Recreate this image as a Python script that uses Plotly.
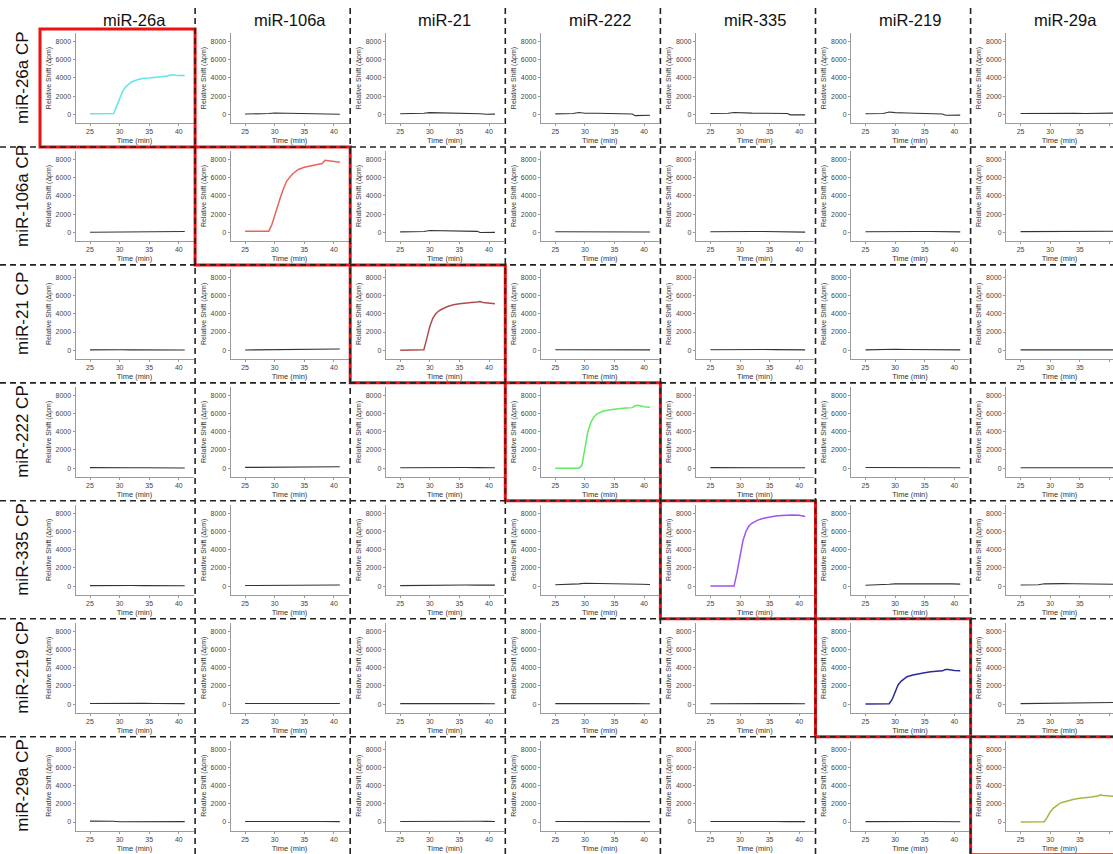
import plotly.graph_objects as go

# ---------------- data ----------------
targets = ["miR-26a", "miR-106a", "miR-21", "miR-222", "miR-335", "miR-219", "miR-29a"]
probes = ["miR-26a CP", "miR-106a CP", "miR-21 CP", "miR-222 CP", "miR-335 CP", "miR-219 CP", "miR-29a CP"]

x_ticks = [25, 30, 35, 40]
y_ticks = [0, 2000, 4000, 6000, 8000]

# time axis (min) for the matched (diagonal) signals
t_match = [25, 26, 27, 28, 29, 29.5, 30, 30.5, 31, 31.5, 32, 33, 34, 35, 36, 37, 38, 38.5, 39, 40, 41]
sig_26a = [50, 50, 50, 50, 100, 900, 1800, 2500, 3000, 3300, 3550, 3800, 3950, 4000, 4050, 4100, 4200, 4300, 4350, 4250, 4250]
sig_106a = [100, 100, 100, 100, 120, 800, 1900, 3000, 3900, 4800, 5600, 6400, 6900, 7150, 7300, 7450, 7550, 7900, 7850, 7750, 7700]
sig_21 = [0, 0, 0, 0, 50, 1300, 2600, 3500, 4000, 4300, 4500, 4800, 5000, 5100, 5200, 5250, 5300, 5350, 5250, 5150, 5100]
sig_222 = [0, 0, 0, 0, 0, 300, 2200, 4000, 5000, 5600, 5950, 6250, 6400, 6500, 6550, 6600, 6650, 6850, 6900, 6750, 6700]
sig_335 = [0, 0, 0, 0, 0, 1500, 3500, 5000, 6000, 6600, 6900, 7250, 7450, 7600, 7700, 7750, 7800, 7800, 7820, 7780, 7650]
sig_219 = [0, 0, 0, 0, 30, 500, 1400, 2100, 2500, 2800, 3000, 3200, 3350, 3450, 3550, 3600, 3650, 3800, 3800, 3700, 3650]
sig_29a = [0, 0, 0, 0, 30, 500, 1100, 1500, 1800, 2000, 2150, 2350, 2500, 2600, 2650, 2750, 2850, 3000, 2900, 2850, 2800]
match_colors = ["#5ee6ee", "#e8645a", "#b24c4c", "#62ea62", "#a052f0", "#2c2c92", "#a8b442"]

# time axis (min) for the non-matched (off-diagonal) traces
t_cross = [25, 26.5, 28, 29, 30, 32, 34, 36, 38, 38.5, 39.5, 41]
# each row: probe, remaining targets in column order (diagonal skipped)
cross_26a_cp = [
    [30, 40, 60, 80, 150, 130, 110, 100, 80, 60, 20, 10],
    [60, 60, 80, 120, 180, 160, 150, 140, 110, 60, 0, 20],
    [50, 60, 80, 200, 120, 110, 90, 70, 40, -150, -120, -100],
    [80, 90, 110, 200, 150, 130, 120, 100, 80, -60, -80, -60],
    [60, 70, 90, 250, 180, 140, 120, 80, 40, -100, -120, -90],
    [90, 100, 110, 140, 120, 110, 100, 90, 100, 110, 100, 130],
]
cross_106a_cp = [
    [0, 10, 20, 30, 20, 10, 10, 20, 40, 50, 60, 80],
    [40, 50, 60, 80, 200, 190, 180, 170, 100, -20, -30, -10],
    [60, 60, 70, 90, 100, 90, 80, 70, 60, 50, 40, 30],
    [50, 60, 70, 130, 110, 90, 80, 70, 60, 40, 20, 10],
    [60, 70, 90, 140, 120, 100, 90, 80, 70, 60, 50, 40],
    [70, 70, 80, 100, 90, 80, 70, 60, 50, 70, 90, 110],
]
cross_21_cp = [
    [40, 60, 80, 60, 50, 40, 30, 30, 20, 20, 10, 20],
    [30, 40, 50, 60, 70, 80, 90, 100, 110, 120, 120, 130],
    [50, 50, 60, 70, 80, 70, 60, 60, 50, 50, 40, 40],
    [50, 60, 70, 110, 90, 80, 70, 60, 50, 50, 40, 40],
    [40, 60, 80, 140, 100, 80, 70, 60, 60, 50, 40, 40],
    [40, 50, 60, 70, 60, 50, 50, 40, 40, 30, 30, 30],
]
cross_222_cp = [
    [60, 70, 80, 90, 70, 50, 40, 40, 30, 30, 20, 20],
    [80, 90, 100, 110, 120, 120, 130, 130, 140, 140, 150, 150],
    [40, 50, 60, 80, 100, 90, 80, 70, 60, 60, 50, 50],
    [60, 60, 70, 80, 70, 60, 60, 50, 50, 40, 40, 40],
    [70, 70, 80, 100, 90, 80, 70, 60, 60, 50, 50, 50],
    [50, 60, 70, 80, 70, 60, 60, 50, 50, 40, 40, 40],
]
cross_335_cp = [
    [50, 60, 80, 100, 80, 60, 50, 40, 30, 30, 30, 40],
    [60, 70, 80, 90, 100, 100, 110, 110, 110, 110, 120, 120],
    [50, 60, 80, 120, 150, 140, 130, 120, 110, 100, 100, 110],
    [150, 160, 180, 250, 320, 310, 300, 290, 280, 260, 200, 180],
    [100, 110, 130, 200, 250, 260, 270, 280, 290, 300, 250, 220],
    [120, 130, 150, 250, 280, 270, 260, 250, 240, 230, 220, 200],
]
cross_219_cp = [
    [60, 70, 80, 100, 90, 80, 70, 60, 60, 50, 50, 50],
    [60, 70, 80, 90, 80, 70, 70, 60, 60, 60, 60, 60],
    [50, 60, 70, 80, 70, 60, 60, 50, 50, 50, 40, 40],
    [50, 60, 70, 80, 70, 60, 60, 50, 50, 50, 40, 40],
    [40, 50, 60, 80, 70, 60, 60, 50, 50, 40, 40, 40],
    [50, 60, 70, 100, 80, 70, 80, 90, 100, 120, 150, 170],
]
cross_29a_cp = [
    [100, 110, 100, 80, 20, 10, 0, 0, 10, 20, 30, 40],
    [60, 70, 80, 90, 80, 70, 60, 60, 50, 50, 40, 40],
    [50, 60, 70, 80, 70, 60, 60, 70, 80, 80, 70, 60],
    [60, 60, 70, 90, 80, 70, 60, 50, 50, 40, 40, 40],
    [50, 60, 60, 70, 60, 60, 50, 50, 40, 40, 40, 40],
    [40, 50, 60, 90, 70, 60, 50, 50, 40, 40, 30, 30],
]

match_signals = [sig_26a, sig_106a, sig_21, sig_222, sig_335, sig_219, sig_29a]
cross_rows = [cross_26a_cp, cross_106a_cp, cross_21_cp, cross_222_cp, cross_335_cp, cross_219_cp, cross_29a_cp]

# ---------------- layout geometry ----------------
W, H = 1113, 854
GRID_X0, GRID_Y0 = 40.0, 29.0
CELL_W, CELL_H = 155.1, 117.95
PX_PER_MIN = 5.92
X_AXIS_START = 22.55
Y_RANGE = [-956, 8934]
FONT = "Arial, Liberation Sans, sans-serif"

fig = go.Figure()
layout = {}
annotations = []
shapes = []

for r in range(7):
    cross_iter = iter(cross_rows[r])
    for c in range(7):
        n = r * 7 + c + 1
        sfx = "" if n == 1 else str(n)
        cell_left = GRID_X0 + CELL_W * c
        cell_top = GRID_Y0 + CELL_H * r
        px0 = cell_left + 35.5
        px1 = min(cell_left + 153.5, W)
        py_top = cell_top + 4
        py_bot = cell_top + 94
        x_hi = X_AXIS_START + (px1 - px0) / PX_PER_MIN

        if r == c:
            fig.add_trace(go.Scatter(x=t_match, y=match_signals[r], mode="lines",
                                     line=dict(color=match_colors[r], width=1.5),
                                     xaxis="x" + sfx, yaxis="y" + sfx, showlegend=False,
                                     hoverinfo="skip"))
        else:
            fig.add_trace(go.Scatter(x=t_cross, y=next(cross_iter), mode="lines",
                                     line=dict(color="#333333", width=1.1),
                                     xaxis="x" + sfx, yaxis="y" + sfx, showlegend=False,
                                     hoverinfo="skip"))

        layout["xaxis" + sfx] = dict(
            domain=[px0 / W, px1 / W], anchor="y" + sfx, range=[X_AXIS_START, x_hi],
            tickvals=x_ticks, ticks="outside", ticklen=2, tickcolor="#999999",
            showline=True, linecolor="#9a9a9a", linewidth=1, showgrid=False, zeroline=False,
            tickfont=dict(size=7, color="#444444", family=FONT),
            title=dict(text="Time (min)", font=dict(size=7.5, color="#333333", family=FONT), standoff=3),
            fixedrange=True,
        )
        layout["yaxis" + sfx] = dict(
            domain=[1 - py_bot / H, 1 - py_top / H], anchor="x" + sfx, range=Y_RANGE,
            tickvals=y_ticks, ticks="outside", ticklen=2, tickcolor="#999999",
            showline=True, linecolor="#9a9a9a", linewidth=1, showgrid=False, zeroline=False,
            tickfont=dict(size=7, color="#444444", family=FONT),
            title=dict(text="Relative Shift (\u0394pm)", font=dict(size=7, color="#333333", family=FONT), standoff=3),
            fixedrange=True,
        )

        if r == 0:
            annotations.append(dict(text=targets[c], x=(px0 + 59) / W, y=1 - 20 / H,
                                    xref="paper", yref="paper", showarrow=False,
                                    xanchor="center", yanchor="middle",
                                    font=dict(size=16.5, color="#111111", family=FONT)))
        if c == 0:
            annotations.append(dict(text=probes[r], x=23 / W, y=1 - (py_top + py_bot) / 2 / H,
                                    xref="paper", yref="paper", showarrow=False, textangle=-90,
                                    xanchor="center", yanchor="middle",
                                    font=dict(size=17, color="#111111", family=FONT)))

# red boxes around matched cells
for k in range(7):
    x0 = GRID_X0 + CELL_W * k
    y0 = GRID_Y0 + CELL_H * k
    shapes.append(dict(type="rect", xref="paper", yref="paper",
                       x0=x0 / W, x1=min(x0 + CELL_W, W + 5) / W,
                       y0=1 - min(y0 + CELL_H, H + 5) / H, y1=1 - y0 / H,
                       line=dict(color="#ee1111", width=3), layer="above"))

# dashed separators
for k in range(1, 7):
    xv = GRID_X0 + CELL_W * k
    shapes.append(dict(type="line", xref="paper", yref="paper", x0=xv / W, x1=xv / W,
                       y0=0, y1=1 - 8 / H, line=dict(color="#222222", width=1.6, dash="6px,4px"),
                       layer="above"))
    yh = GRID_Y0 + CELL_H * k
    shapes.append(dict(type="line", xref="paper", yref="paper", x0=0, x1=1,
                       y0=1 - yh / H, y1=1 - yh / H, line=dict(color="#222222", width=1.6, dash="6px,4px"),
                       layer="above"))

fig.update_layout(
    width=W, height=H, margin=dict(l=0, r=0, t=0, b=0),
    paper_bgcolor="white", plot_bgcolor="white",
    annotations=annotations, shapes=shapes, showlegend=False,
    **layout,
)

fig.write_html("out.html", config={"displayModeBar": False, "staticPlot": True},
               post_script="document.body.style.margin='0';document.body.style.overflow='hidden';")
